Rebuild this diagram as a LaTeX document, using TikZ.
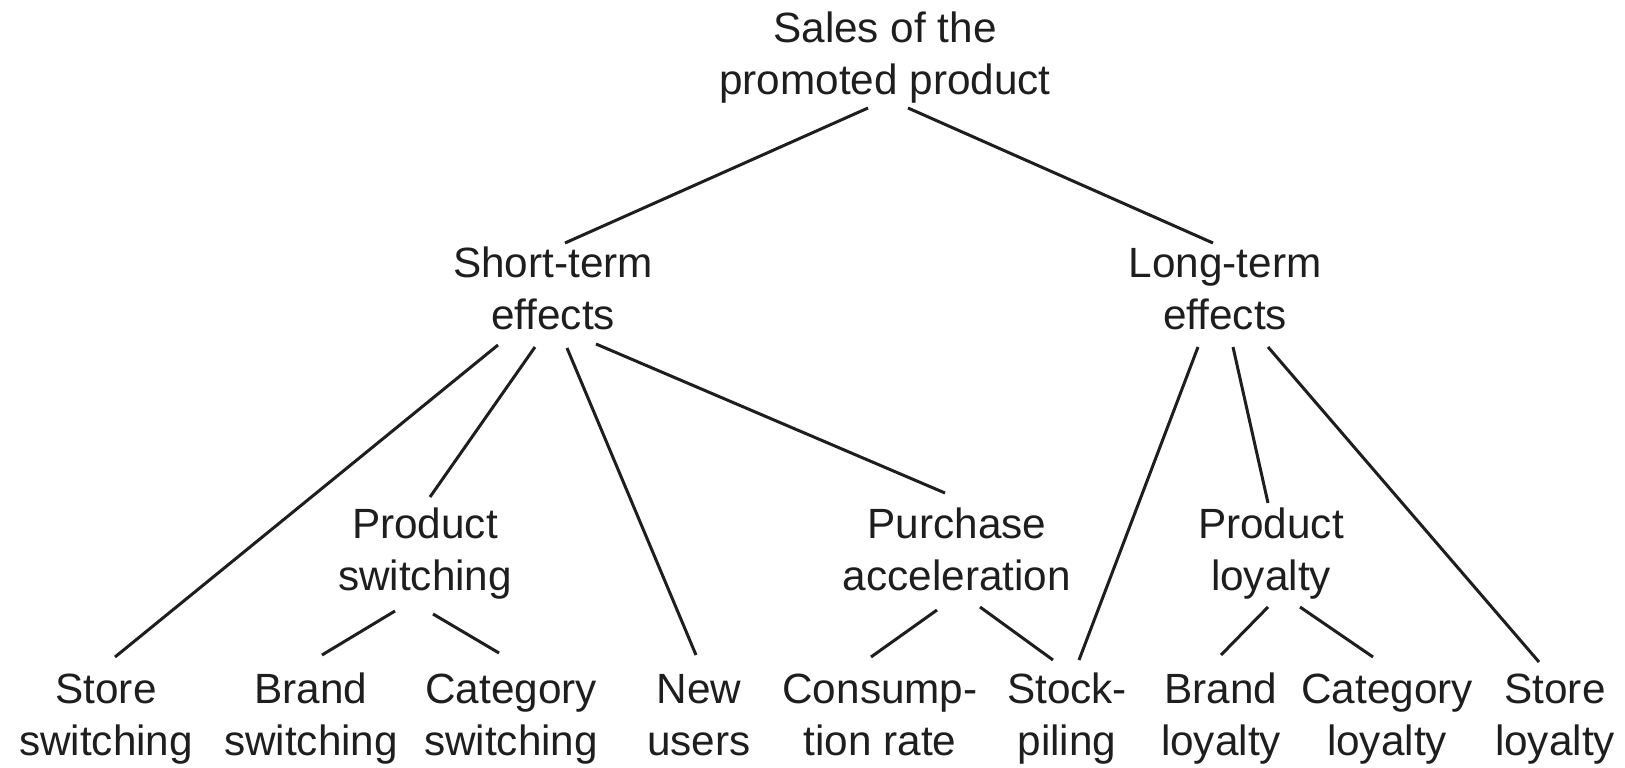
\documentclass[tikz,border=0pt]{standalone}
\usepackage{fontspec}
\setmainfont{Liberation Sans}
\usetikzlibrary{calc}
\definecolor{ink}{HTML}{1E1E1E}
\tikzset{
  lbl/.style={anchor=base, align=center, inner sep=0pt, text=ink,
    font=\fontsize{42.3}{52}\selectfont},
  edge/.style={draw=ink, line width=3pt}
}
\begin{document}
\begin{tikzpicture}[x=1pt,y=-1pt]
\useasboundingbox[fill=white] (0,0) rectangle (1625,768);
% nodes (base anchor = baseline of the last line)
\node[lbl] (root) at (885,95) {Sales of the\\promoted product};
\node[lbl] (st) at (553,329) {Short-term\\effects};
\node[lbl] (lt) at (1225,329) {Long-term\\effects};
\node[lbl] (ps) at (425,590) {Product\\switching};
\node[lbl] (pa) at (957,590) {Purchase\\acceleration};
\node[lbl] (pl) at (1271,590) {Product\\loyalty};
\node[lbl] (ss) at (106,755) {Store\\switching};
\node[lbl] (bs) at (311,755) {Brand\\switching};
\node[lbl] (cs) at (511,755) {Category\\switching};
\node[lbl] (nu) at (699,755) {New\\users};
\node[lbl] (cr) at (880,755) {Consump-\\tion rate};
\node[lbl] (sp) at (1067,755) {Stock-\\piling};
\node[lbl] (bl) at (1221,755) {Brand\\loyalty};
\node[lbl] (cl) at (1387,755) {Category\\loyalty};
\node[lbl] (sl) at (1555,755) {Store\\loyalty};
% connectors
\draw[edge] ($(root.base)+(-17,13)$) -- ($(st.base)+(12,-86)$);
\draw[edge] ($(root.base)+(23,13)$) -- ($(lt.base)+(-12,-86)$);
\draw[edge] ($(st.base)+(-55,16)$) -- ($(ss.base)+(9,-98)$);
\draw[edge] ($(st.base)+(-18,18)$) -- ($(ps.base)+(5,-93)$);
\draw[edge] ($(st.base)+(14,19)$) -- ($(nu.base)+(-3,-100)$);
\draw[edge] ($(st.base)+(43,15)$) -- ($(pa.base)+(-12,-97)$);
\draw[edge] ($(lt.base)+(-27,18)$) -- ($(sp.base)+(12,-95)$);
\draw[edge] ($(lt.base)+(8,18)$) -- ($(pl.base)+(-3,-87)$);
\draw[edge] ($(lt.base)+(43,18)$) -- ($(sl.base)+(-16,-93)$);
\draw[edge] ($(ps.base)+(-30,21)$) -- ($(bs.base)+(11,-100)$);
\draw[edge] ($(ps.base)+(8,24)$) -- ($(cs.base)+(-12,-102)$);
\draw[edge] ($(pa.base)+(-20,20)$) -- ($(cr.base)+(-9,-98)$);
\draw[edge] ($(pa.base)+(23,17)$) -- ($(sp.base)+(-14,-95)$);
\draw[edge] ($(pl.base)+(-3,17)$) -- ($(bl.base)+(0,-100)$);
\draw[edge] ($(pl.base)+(29,17)$) -- ($(cl.base)+(-14,-98)$);
\end{tikzpicture}
\end{document}
